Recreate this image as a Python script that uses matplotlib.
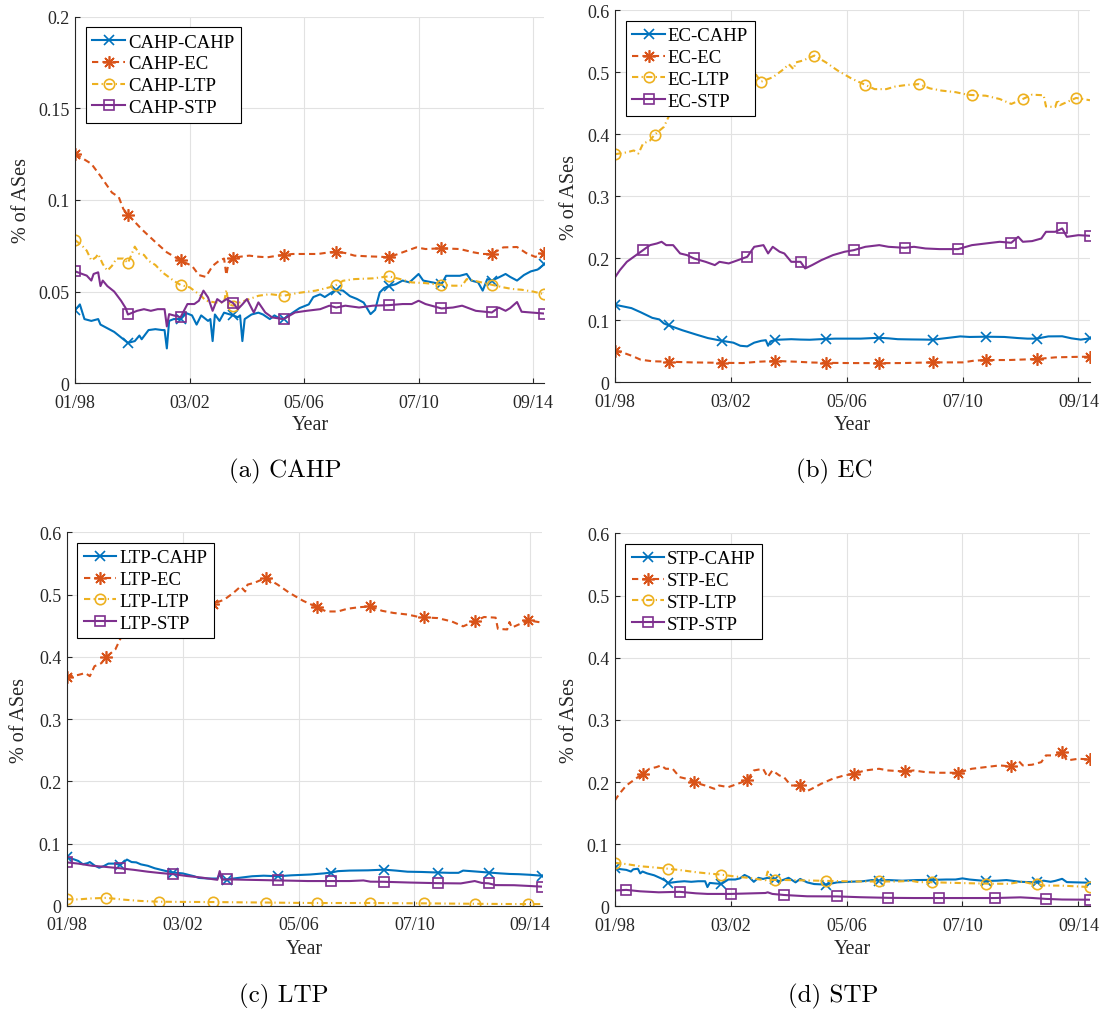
import matplotlib.pyplot as plt

plt.rcParams['font.family'] = ['Liberation Serif', 'DejaVu Serif']

# x is months counted from 01/1998
XTICKS = [0, 50, 100, 150, 200]
XTICK_LABELS = ['01/98', '03/02', '05/06', '07/10', '09/14']
CLASSES = ['CAHP', 'EC', 'LTP', 'STP']

# marker months for each series
MK_STD = [0, 23, 46, 69, 91, 114, 137, 160, 182, 205]
MK_LTP = [0, 17, 40, 63, 86, 108, 131, 154, 176, 199]
MK_ES = [12, 34, 57, 80, 103, 125, 148, 171, 193, 205]
MK_SS = [5, 28, 50, 73, 96, 118, 140, 164, 186, 205]

# (month, share of ASes) per class pair; the matrix is symmetric
cahp_cahp = [(0, .040), (2, .043), (4, .035), (7, .034), (10, .035), (11, .032), (14, .030),
             (17, .028), (20, .025), (22, .023), (23, .022), (26, .023), (28, .026), (29, .024),
             (32, .029), (35, .0295), (38, .029), (39, .029), (40, .019), (41, .034), (43, .035),
             (46, .035), (48, .0385), (51, .037), (53, .032), (55, .037), (58, .034), (59, .035),
             (60, .023), (61, .0375), (63, .034), (65, .0385), (69, .037), (71, .036), (72, .037),
             (73, .023), (74, .035), (77, .0375), (80, .0385), (82, .0375), (85, .035), (87, .037),
             (89, .0355), (91, .035), (95, .0385), (98, .041), (102, .043), (104, .047),
             (107, .0485), (109, .047), (112, .0495), (114, .051), (117, .0505), (120, .0475),
             (123, .046), (126, .044), (129, .0377), (131, .040), (133, .0495), (135, .052),
             (137, .053), (140, .054), (143, .056), (146, .055), (150, .0596), (152, .056),
             (156, .055), (160, .054), (162, .0586), (165, .0586), (168, .0586), (171, .0596),
             (173, .056), (176, .055), (178, .0505), (180, .0568), (182, .056), (185, .0577),
             (188, .0596), (190, .058), (193, .056), (196, .059), (199, .061), (202, .062),
             (205, .065)]

cahp_ec = [(0, .125), (4, .122), (7, .1197), (11, .113), (16, .104), (19, .1015), (21, .095),
           (23, .092), (29, .084), (32, .0805), (35, .077), (40, .0714), (46, .067), (51, .064),
           (54, .059), (57, .058), (60, .064), (63, .067), (65, .068), (66, .059), (67, .066),
           (69, .0685), (72, .069), (76, .0696), (80, .069), (84, .0687), (88, .0695), (91, .070),
           (95, .0705), (100, .0705), (106, .0705), (111, .0714), (114, .0718), (118, .071),
           (122, .0696), (128, .0692), (133, .069), (137, .0687), (143, .0714), (149, .0741),
           (153, .0732), (160, .0736), (168, .0732), (174, .0714), (178, .0705), (182, .0705),
           (187, .0741), (193, .0743), (197, .071), (201, .0689), (205, .071)]

cahp_ltp = [(0, .078), (3, .075), (5, .0723), (7, .067), (9, .0687), (10, .0705), (12, .065),
            (14, .0614), (16, .064), (18, .068), (21, .068), (23, .0656), (26, .0745), (28, .0705),
            (30, .070), (32, .0668), (35, .0645), (38, .0605), (40, .0587), (43, .0559),
            (46, .0536), (50, .0523), (53, .0495), (55, .0477), (57, .045), (61, .0441),
            (65, .044), (66, .051), (67, .043), (69, .0423), (72, .0441), (76, .0459), (80, .0477),
            (85, .0486), (91, .0477), (97, .0492), (105, .0505), (111, .0523), (114, .0536),
            (117, .0559), (122, .0568), (130, .0572), (137, .0583), (142, .0568), (147, .055),
            (153, .0546), (160, .0537), (165, .0532), (169, .0532), (171, .0568), (174, .056),
            (182, .0537), (187, .0523), (191, .0514), (195, .051), (200, .050), (205, .0485)]

cahp_stp = [(0, .061), (3, .0596), (5, .0587), (7, .056), (8, .0596), (10, .0605), (11, .053),
            (12, .056), (14, .053), (17, .050), (20, .045), (22, .041), (23, .0375), (27, .0395),
            (30, .0404), (33, .0395), (36, .0404), (39, .0404), (40, .031), (41, .0377),
            (43, .037), (46, .036), (49, .0432), (52, .0432), (54, .045), (56, .0505), (58, .0468),
            (60, .0395), (62, .0459), (64, .0441), (66, .0459), (69, .0437), (71, .0404),
            (73, .043), (75, .0459), (77, .041), (78, .0386), (80, .0441), (83, .0386),
            (86, .0359), (91, .035), (96, .0386), (101, .0395), (107, .0404), (111, .0423),
            (114, .0413), (118, .0423), (124, .0413), (130, .0423), (137, .0426), (143, .0432),
            (147, .0432), (150, .045), (153, .0432), (160, .0408), (165, .0413), (169, .0423),
            (175, .0395), (182, .0386), (185, .0413), (188, .0395), (190, .041), (193, .0443),
            (195, .039), (200, .0385), (205, .038)]

ec_ec = [(0, .051), (4, .047), (7, .043), (11, .0365), (16, .034), (23, .0333), (33, .0322),
         (46, .0315), (55, .0311), (62, .0333), (69, .0345), (78, .0333), (85, .032), (91, .0315),
         (101, .0311), (114, .031), (124, .0311), (137, .0322), (150, .0322), (155, .035),
         (160, .036), (170, .036), (182, .0376), (190, .0403), (198, .041), (205, .0414)]

ec_ltp = [(0, .368), (5, .371), (8, .374), (10, .369), (12, .385), (15, .39), (17, .3996),
          (21, .412), (23, .428), (27, .45), (32, .475), (40, .49), (48, .50), (55, .51),
          (59, .508), (61, .495), (63, .4849), (68, .492), (72, .503), (75, .513), (77, .505),
          (78, .516), (81, .519), (86, .527), (91, .516), (96, .503), (102, .49), (108, .4797),
          (112, .4729), (117, .4729), (121, .4772), (126, .4797), (131, .481), (136, .474),
          (141, .4705), (147, .468), (152, .464), (154, .4634), (160, .4623), (166, .457),
          (171, .449), (176, .457), (180, .464), (185, .463), (186, .445), (190, .444),
          (191, .456), (192, .447), (195, .452), (199, .4587), (205, .455)]

ec_stp = [(0, .170), (2, .181), (5, .1944), (8, .2025), (12, .2132), (15, .2213), (18, .224),
          (20, .2267), (22, .2213), (25, .2213), (28, .2079), (31, .2052), (34, .1998),
          (39, .1944), (43, .1891), (45, .1944), (49, .1918), (51, .1944), (57, .2025),
          (60, .2186), (64, .2213), (66, .2079), (68, .2186), (71, .2106), (73, .2079),
          (76, .1944), (80, .1944), (82, .1837), (85, .1891), (89, .1971), (94, .2052),
          (99, .2106), (103, .2132), (108, .2186), (114, .2213), (118, .2186), (125, .217),
          (129, .2186), (134, .2159), (140, .2149), (148, .2149), (154, .2213), (160, .224),
          (166, .2267), (171, .2251), (174, .2347), (176, .2267), (180, .2278), (184, .232),
          (186, .2428), (190, .2428), (193, .2482), (195, .2347), (200, .2374), (205, .2363)]

ltp_ltp = [(0, .011), (5, .0105), (10, .012), (17, .013), (25, .010), (32, .008), (40, .0068),
           (50, .0065), (63, .0063), (75, .0058), (86, .0055), (97, .005), (108, .0047),
           (120, .0047), (131, .0048), (142, .0044), (154, .0042), (165, .0038), (176, .0035),
           (188, .0032), (199, .003), (205, .003)]

ltp_stp = [(0, .070), (5, .068), (11, .0645), (16, .063), (23, .0605), (29, .058), (35, .055),
           (40, .053), (46, .051), (52, .048), (58, .0457), (63, .043), (65, .042), (66, .056),
           (67, .0425), (69, .0425), (72, .0425), (78, .042), (85, .0415), (91, .041),
           (98, .0405), (104, .040), (114, .040), (122, .040), (128, .041), (131, .039),
           (137, .0388), (148, .0376), (160, .0366), (170, .0362), (176, .040), (179, .037),
           (182, .0363), (185, .0335), (193, .0333), (200, .032), (205, .031)]

stp_stp = [(0, .0255), (5, .0265), (11, .0242), (19, .0226), (28, .0234), (35, .021), (40, .020),
           (50, .020), (60, .021), (65, .0215), (66, .0226), (68, .020), (73, .0183), (83, .0162),
           (96, .016), (106, .0147), (118, .0137), (129, .0134), (140, .0134), (152, .0134),
           (164, .0134), (170, .014), (175, .0145), (180, .0135), (186, .012), (193, .011),
           (200, .0108), (205, .0107)]

SERIES = {
    ('CAHP', 'CAHP'): (cahp_cahp, MK_STD),
    ('CAHP', 'EC'): (cahp_ec, MK_STD),
    ('CAHP', 'LTP'): (cahp_ltp, MK_STD),
    ('CAHP', 'STP'): (cahp_stp, MK_STD),
    ('EC', 'EC'): (ec_ec, MK_STD),
    ('EC', 'LTP'): (ec_ltp, MK_LTP),
    ('EC', 'STP'): (ec_stp, MK_ES),
    ('LTP', 'LTP'): (ltp_ltp, MK_LTP),
    ('LTP', 'STP'): (ltp_stp, MK_STD),
    ('STP', 'STP'): (stp_stp, MK_SS),
}

STYLE = {
    'CAHP': dict(color='#0072BD', ls='-', marker='x', ms=7),
    'EC': dict(color='#D95319', ls=(0, (3, 2)), marker=(8, 2, 0), ms=9),
    'LTP': dict(color='#EDB120', ls=(0, (3, 1.6, 0.6, 1.6)), marker='o', ms=7.5),
    'STP': dict(color='#7E2F8E', ls='-', marker='s', ms=7),
}

# axes rectangles in figure fractions, plus y range and caption position
PANELS = [
    ('CAHP', [0.0682, 0.6203, 0.4250, 0.3624], 0.2, '(a) CAHP', (0.258, 0.5287)),
    ('EC', [0.5573, 0.6212, 0.4300, 0.3676], 0.6, '(b) EC', (0.756, 0.5287)),
    ('LTP', [0.0604, 0.1038, 0.4305, 0.3692], 0.6, '(c) LTP', (0.257, 0.0092)),
    ('STP', [0.5568, 0.1034, 0.4305, 0.3686], 0.6, '(d) STP', (0.755, 0.0092)),
]
YLABEL_X = {'CAHP': -0.1145, 'EC': -0.096, 'LTP': -0.0985, 'STP': -0.0947}

fig = plt.figure(figsize=(11.04, 10.12), dpi=100)

for cls, rect, ytop, caption, cap_xy in PANELS:
    ax = fig.add_axes(rect)
    for other in CLASSES:
        key = (cls, other) if (cls, other) in SERIES else (other, cls)
        pts, mk = SERIES[key]
        t = [p[0] for p in pts]
        v = [p[1] for p in pts]
        st = STYLE[other]
        ax.plot(t, v, color=st['color'], ls=st['ls'], lw=1.5,
                marker=st['marker'], markevery=[t.index(m) for m in mk],
                ms=st['ms'], mew=1.2, mfc='none', label=f'{cls}-{other}')

    ax.set_xlim(0, 205)
    ax.set_ylim(0, ytop)
    ax.set_xticks(XTICKS)
    ax.set_xticklabels(XTICK_LABELS)
    if ytop == 0.2:
        yt = [0, 0.05, 0.1, 0.15, 0.2]
        ax.set_yticks(yt)
        ax.set_yticklabels(['0', '0.05', '0.1', '0.15', '0.2'])
    else:
        yt = [i / 10 for i in range(7)]
        ax.set_yticks(yt)
        ax.set_yticklabels(['0'] + [f'{y:g}' for y in yt[1:]])

    ax.grid(True, color='#e2e2e2', lw=0.8)
    ax.set_axisbelow(True)
    for s in ['top', 'right']:
        ax.spines[s].set_visible(False)
    for s in ['left', 'bottom']:
        ax.spines[s].set_color('#262626')
        ax.spines[s].set_linewidth(0.8)
    ax.tick_params(direction='in', length=3.5, width=0.8, colors='#262626', labelsize=13)
    ax.tick_params(axis='x', pad=7.5)
    ax.tick_params(axis='y', pad=4)

    ax.set_xlabel('Year', fontsize=14.5, color='#262626')
    ax.xaxis.set_label_coords(0.5, -0.125)
    ax.xaxis.label.set_va('baseline')
    ax.set_ylabel('% of ASes', fontsize=14.5, color='#262626')
    ax.yaxis.set_label_coords(YLABEL_X[cls], 0.5)
    ax.yaxis.label.set_va('center')

    leg = ax.legend(loc='upper left', fontsize=13.5, fancybox=False, edgecolor='black',
                    framealpha=1, borderaxespad=0.55, handlelength=1.75, handletextpad=0.15,
                    borderpad=0.35, labelspacing=0.25, numpoints=1)
    leg.get_frame().set_linewidth(0.8)

    fig.text(cap_xy[0], cap_xy[1], caption, fontsize=18, family='cmr10',
             ha='center', va='baseline')

fig.savefig('out.png', dpi=100)
